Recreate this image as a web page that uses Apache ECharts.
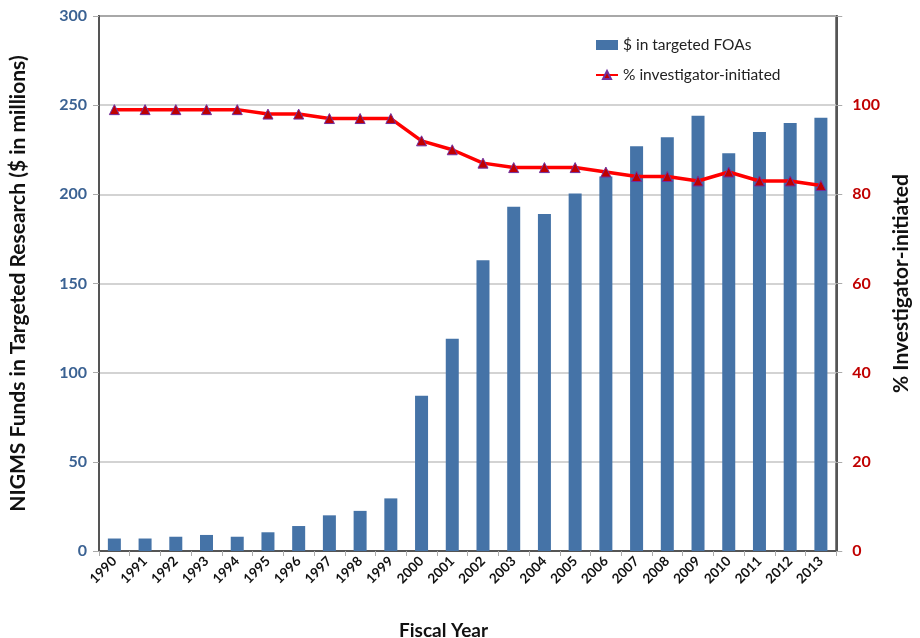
<!DOCTYPE html>
<html>
<head>
<meta charset="utf-8">
<script src="https://cdn.jsdelivr.net/npm/echarts@6/dist/echarts.min.js"></script>
<style>
  html, body { margin: 0; padding: 0; background: #fff; }
  #main { width: 920px; height: 638px; }
</style>
</head>
<body>
<div id="main"></div>
<script>
var years = ['1990', '1991', '1992', '1993', '1994', '1995', '1996', '1997', '1998', '1999', '2000', '2001',
  '2002', '2003', '2004', '2005', '2006', '2007', '2008', '2009', '2010', '2011', '2012', '2013'];
// $ in targeted FOAs (millions)
var targetedFunds = [7, 7, 8, 9, 8, 10.5, 14, 20, 22.5, 29.5, 87, 119,
  163, 193, 189, 200.5, 210, 227, 232, 244, 223, 235, 240, 243];
// % investigator-initiated
var pctInvestigator = [99, 99, 99, 99, 99, 98, 98, 97, 97, 97, 92, 90,
  87, 86, 86, 86, 85, 84, 84, 83, 85, 83, 83, 82];

var fontFam = 'Lato, "Open Sans", sans-serif';

var dom = document.getElementById('main');
var chart = echarts.init(dom, null, { renderer: 'canvas' });

var option = {
  animation: false,
  textStyle: { fontFamily: fontFam },
  grid: {
    left: 94,
    right: 72,
    top: 16,
    bottom: 87,
    show: true,
    borderColor: '#555',
    borderWidth: 2
  },
  title: {
    text: 'Fiscal Year',
    left: 394,
    top: 616,
    textStyle: { fontFamily: fontFam, fontSize: 19, fontWeight: 'bold', color: '#111' }
  },
  legend: {
    orient: 'vertical',
    left: 590,
    top: 32,
    itemGap: 14,
    itemWidth: 22,
    itemHeight: 10,
    textStyle: { fontFamily: fontFam, fontSize: 15.5, color: '#222' },
    data: [
      { name: '$ in targeted FOAs', icon: 'rect' },
      { name: '% investigator-initiated' }
    ]
  },
  xAxis: {
    type: 'category',
    data: years,
    boundaryGap: true,
    axisLine: { lineStyle: { color: '#555', width: 2 } },
    axisTick: { show: true, length: 5, lineStyle: { color: '#aaa' } },
    axisLabel: {
      rotate: 45,
      margin: 8,
      fontSize: 13.5,
      fontWeight: 'bold',
      color: '#111',
      interval: 0
    }
  },
  yAxis: [
    {
      type: 'value',
      min: 0,
      max: 300,
      interval: 50,
      name: 'NIGMS Funds in Targeted Research ($ in millions)',
      nameLocation: 'middle',
      nameGap: 70,
      nameTextStyle: { fontSize: 21, fontWeight: 'bold', color: '#111' },
      axisLine: { show: true, lineStyle: { color: '#555', width: 2 } },
      axisTick: { show: true, length: 6, lineStyle: { color: '#aaa' } },
      axisLabel: { fontSize: 16, fontWeight: 'bold', color: '#3b6293', margin: 12 },
      splitLine: { show: true, lineStyle: { color: '#c4c4c4', width: 1.5 } }
    },
    {
      type: 'value',
      min: 0,
      max: 120,
      interval: 20,
      position: 'right',
      name: '% Investigator-initiated',
      nameLocation: 'middle',
      nameGap: 50,
      nameRotate: 90,
      nameTextStyle: { fontSize: 21, fontWeight: 'bold', color: '#111' },
      axisLine: { show: true, lineStyle: { color: '#555', width: 2 } },
      axisTick: { show: true, length: 6, lineStyle: { color: '#aaa' } },
      axisLabel: {
        fontSize: 16,
        fontWeight: 'bold',
        color: '#c00000',
        margin: 16,
        formatter: function (v) { return v === 120 ? '' : v; }
      },
      splitLine: { show: false }
    }
  ],
  series: [
    {
      name: '$ in targeted FOAs',
      type: 'bar',
      data: targetedFunds,
      barWidth: 13,
      itemStyle: { color: '#4573a7' }
    },
    {
      name: '% investigator-initiated',
      type: 'line',
      yAxisIndex: 1,
      data: pctInvestigator,
      symbol: 'triangle',
      symbolSize: 10,
      lineStyle: { color: '#ff0000', width: 3.5 },
      itemStyle: { color: '#c00000', borderColor: '#7030a0', borderWidth: 1 }
    }
  ]
};

chart.setOption(option);
window.addEventListener('resize', chart.resize);
</script>
</body>
</html>
